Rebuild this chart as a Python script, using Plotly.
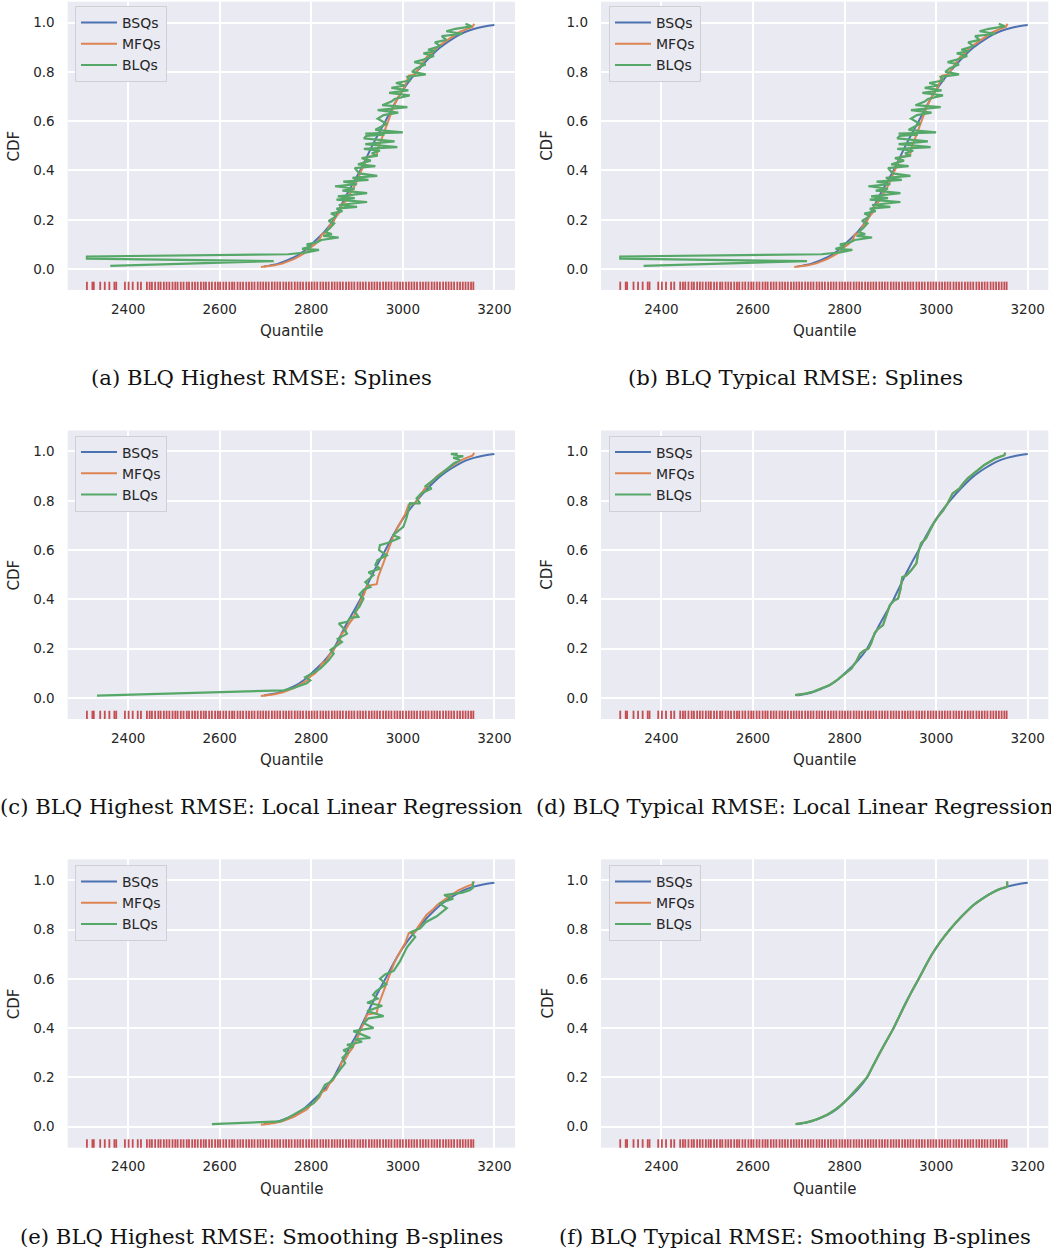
import plotly.graph_objects as go

# ---------------- data ----------------
panel_captions = [
    "(a) BLQ Highest RMSE: Splines",
    "(b) BLQ Typical RMSE: Splines",
    "(c) BLQ Highest RMSE: Local Linear Regression",
    "(d) BLQ Typical RMSE: Local Linear Regression",
    "(e) BLQ Highest RMSE: Smoothing B-splines",
    "(f) BLQ Typical RMSE: Smoothing B-splines",
]
series_names = ["BSQs", "MFQs", "BLQs"]
x_ticks = [2400, 2600, 2800, 3000, 3200]
y_ticks = [0.0, 0.2, 0.4, 0.6, 0.8, 1.0]

# observed sample (rug)
rug_values = [2310, 2322, 2325, 2339, 2349, 2359, 2370, 2374, 2393, 2401, 2410, 2421, 2428,
              2441, 2447, 2452, 2459, 2466, 2471, 2478, 2484, 2490, 2497, 2503, 2508, 2515, 2521,
              2528, 2533, 2540, 2546, 2552, 2559, 2565, 2570, 2577, 2583, 2590, 2596, 2601, 2608,
              2614, 2621, 2627, 2632, 2639, 2645, 2651, 2658, 2664, 2670, 2676, 2683, 2689, 2695,
              2701, 2707, 2714, 2720, 2726, 2732, 2739, 2745, 2751, 2757, 2764, 2770, 2776, 2782,
              2789, 2795, 2801, 2807, 2813, 2820, 2826, 2832, 2838, 2845, 2851, 2857, 2863, 2869,
              2876, 2882, 2888, 2894, 2901, 2907, 2913, 2919, 2926, 2932, 2938, 2944, 2950, 2957,
              2963, 2969, 2975, 2982, 2988, 2994, 3000, 3007, 3013, 3019, 3025, 3031, 3038, 3044,
              3050, 3056, 3063, 3069, 3075, 3081, 3088, 3094, 3100, 3106, 3112, 3119, 3125, 3131,
              3137, 3143, 3149, 3154]

# BSQs (same in every panel)
bsq_quantile = [2697, 2710, 2725, 2740, 2765, 2782, 2800, 2828, 2849, 2863, 2877, 2892, 2907, 2920,
                2933, 2947, 2962, 2976, 2991, 3009, 3030, 3054, 3082, 3105, 3123, 3140, 3155, 3175, 3200]
bsq_cdf = [0.01, 0.015, 0.02, 0.03, 0.05, 0.07, 0.10, 0.15, 0.20, 0.25, 0.30, 0.35, 0.40, 0.45,
           0.50, 0.55, 0.60, 0.65, 0.70, 0.75, 0.80, 0.85, 0.90, 0.93, 0.95, 0.965, 0.974, 0.983, 0.99]

# MFQs (step-like)
mfq_quantile = [2690, 2705, 2720, 2738, 2750, 2762, 2778, 2790, 2800, 2808, 2818, 2823, 2833, 2840,
                2848, 2853, 2862, 2866, 2875, 2882, 2890, 2897, 2903, 2908, 2915, 2922, 2943, 2946,
                2952, 2957, 2962, 2968, 2975, 2980, 2988, 2996, 3005, 3013, 3027, 3033, 3045, 3052,
                3065, 3075, 3090, 3105, 3122, 3140, 3152, 3156]
mfq_cdf = [0.008, 0.010, 0.015, 0.023, 0.030, 0.040, 0.057, 0.070, 0.090, 0.100, 0.120, 0.140, 0.150,
           0.175, 0.190, 0.210, 0.230, 0.260, 0.275, 0.300, 0.320, 0.345, 0.370, 0.395, 0.420, 0.455,
           0.462, 0.490, 0.520, 0.545, 0.575, 0.600, 0.640, 0.660, 0.690, 0.715, 0.745, 0.785, 0.790,
           0.810, 0.845, 0.860, 0.880, 0.900, 0.920, 0.940, 0.960, 0.975, 0.983, 0.995]

# BLQs, (quantile, cdf) pairs per panel
blq_a = [(2361, 0.013), (2718, 0.032), (2310, 0.042), (2310, 0.051), (2750, 0.060), (2765, 0.062),
         (2790, 0.068), (2817, 0.078), (2780, 0.082), (2800, 0.092), (2790, 0.100), (2812, 0.108),
         (2822, 0.118), (2860, 0.128), (2826, 0.135), (2845, 0.142), (2830, 0.150), (2840, 0.165),
         (2850, 0.185), (2838, 0.195), (2848, 0.205), (2855, 0.215), (2843, 0.225), (2868, 0.235),
         (2855, 0.245), (2900, 0.252), (2860, 0.260), (2922, 0.272), (2855, 0.282), (2895, 0.288),
         (2858, 0.295), (2922, 0.308), (2868, 0.318), (2895, 0.326), (2852, 0.336), (2900, 0.345),
         (2870, 0.355), (2925, 0.362), (2890, 0.370), (2944, 0.378), (2905, 0.388), (2895, 0.410),
         (2940, 0.418), (2902, 0.425), (2930, 0.440), (2910, 0.450), (2945, 0.460), (2932, 0.470),
         (2950, 0.480), (2915, 0.488), (2988, 0.495), (2918, 0.507), (2982, 0.518), (2915, 0.530),
         (2920, 0.540), (2960, 0.545), (2918, 0.550), (3000, 0.555), (2940, 0.565), (2950, 0.575),
         (2965, 0.590), (2945, 0.610), (2958, 0.625), (2990, 0.635), (2945, 0.645), (3010, 0.657),
         (2955, 0.665), (2975, 0.680), (2982, 0.690), (3015, 0.705), (2970, 0.715), (3012, 0.725),
         (2975, 0.735), (3005, 0.745), (2985, 0.755), (3015, 0.765), (3010, 0.780), (3050, 0.790),
         (3020, 0.800), (3030, 0.815), (3050, 0.830), (3025, 0.840), (3045, 0.850), (3068, 0.865),
         (3045, 0.875), (3072, 0.885), (3055, 0.890), (3082, 0.905), (3070, 0.920), (3095, 0.930),
         (3085, 0.945), (3130, 0.955), (3095, 0.965), (3115, 0.975), (3140, 0.980), (3150, 0.985),
         (3137, 0.995)]
blq_b = [(2361, 0.013), (2718, 0.032), (2310, 0.042), (2310, 0.051), (2750, 0.060), (2765, 0.062),
         (2790, 0.068), (2817, 0.078), (2780, 0.082), (2800, 0.092), (2790, 0.100), (2812, 0.108),
         (2822, 0.118), (2860, 0.128), (2826, 0.135), (2845, 0.142), (2830, 0.150), (2840, 0.165),
         (2850, 0.185), (2838, 0.195), (2848, 0.205), (2855, 0.215), (2843, 0.225), (2868, 0.235),
         (2855, 0.245), (2900, 0.252), (2860, 0.260), (2922, 0.272), (2855, 0.282), (2895, 0.288),
         (2858, 0.295), (2922, 0.308), (2868, 0.318), (2895, 0.326), (2852, 0.336), (2900, 0.345),
         (2870, 0.355), (2925, 0.362), (2890, 0.370), (2944, 0.378), (2905, 0.388), (2895, 0.410),
         (2940, 0.418), (2902, 0.425), (2930, 0.440), (2910, 0.450), (2945, 0.460), (2932, 0.470),
         (2950, 0.480), (2915, 0.488), (2988, 0.495), (2918, 0.507), (2982, 0.518), (2915, 0.530),
         (2920, 0.540), (2960, 0.545), (2918, 0.550), (3000, 0.555), (2940, 0.565), (2950, 0.575),
         (2965, 0.590), (2945, 0.610), (2958, 0.625), (2990, 0.635), (2945, 0.645), (3010, 0.657),
         (2955, 0.665), (2975, 0.680), (2982, 0.690), (3015, 0.705), (2970, 0.715), (3012, 0.725),
         (2975, 0.735), (3005, 0.745), (2985, 0.755), (3015, 0.765), (3010, 0.780), (3050, 0.790),
         (3020, 0.800), (3030, 0.815), (3050, 0.830), (3025, 0.840), (3045, 0.850), (3068, 0.865),
         (3045, 0.875), (3072, 0.885), (3055, 0.890), (3082, 0.905), (3070, 0.920), (3095, 0.930),
         (3085, 0.945), (3130, 0.955), (3095, 0.965), (3115, 0.975), (3140, 0.980), (3150, 0.985),
         (3137, 0.995)]
blq_c = [(2332, 0.010), (2740, 0.031), (2760, 0.040), (2776, 0.051), (2790, 0.060), (2798, 0.072),
         (2787, 0.085), (2800, 0.098), (2809, 0.106), (2820, 0.120), (2830, 0.140), (2838, 0.153),
         (2849, 0.180), (2842, 0.195), (2850, 0.205), (2867, 0.227), (2858, 0.240), (2878, 0.261),
         (2872, 0.280), (2860, 0.302), (2880, 0.310), (2885, 0.325), (2903, 0.329), (2895, 0.350),
         (2905, 0.370), (2914, 0.403), (2905, 0.420), (2915, 0.440), (2929, 0.450), (2918, 0.470),
         (2936, 0.498), (2925, 0.510), (2950, 0.525), (2940, 0.540), (2945, 0.560), (2965, 0.579),
         (2948, 0.600), (2950, 0.620), (2968, 0.630), (2994, 0.650), (2978, 0.660), (3001, 0.694),
         (3008, 0.730), (3012, 0.762), (3016, 0.790), (3038, 0.789), (3030, 0.810), (3040, 0.830),
         (3063, 0.850), (3050, 0.860), (3067, 0.884), (3089, 0.917), (3111, 0.951), (3125, 0.965),
         (3110, 0.975), (3132, 0.980), (3105, 0.990), (3120, 0.990)]
blq_d = [(2692, 0.012), (2715, 0.018), (2732, 0.026), (2750, 0.038), (2768, 0.053), (2785, 0.075),
         (2801, 0.100), (2815, 0.120), (2826, 0.150), (2834, 0.180), (2842, 0.192), (2852, 0.200),
         (2858, 0.222), (2866, 0.265), (2873, 0.280), (2884, 0.296), (2892, 0.340), (2899, 0.377),
         (2908, 0.395), (2917, 0.404), (2922, 0.440), (2926, 0.490), (2935, 0.497), (2946, 0.519),
         (2957, 0.546), (2961, 0.590), (2967, 0.627), (2978, 0.648), (2985, 0.674), (2995, 0.710),
         (3004, 0.735), (3015, 0.760), (3025, 0.789), (3036, 0.830), (3051, 0.850), (3058, 0.868),
         (3069, 0.891), (3087, 0.918), (3105, 0.945), (3130, 0.972), (3149, 0.985), (3151, 0.995)]
blq_e = [(2583, 0.011), (2732, 0.022), (2748, 0.035), (2761, 0.049), (2780, 0.070), (2805, 0.096),
         (2815, 0.120), (2830, 0.170), (2840, 0.180), (2850, 0.200), (2862, 0.230), (2874, 0.258),
         (2868, 0.280), (2880, 0.300), (2870, 0.310), (2892, 0.326), (2878, 0.332), (2911, 0.345),
         (2895, 0.355), (2929, 0.360), (2892, 0.388), (2936, 0.401), (2915, 0.420), (2925, 0.440),
         (2958, 0.449), (2922, 0.469), (2955, 0.491), (2922, 0.503), (2945, 0.520), (2935, 0.535),
         (2942, 0.550), (2964, 0.578), (2950, 0.600), (2961, 0.618), (2980, 0.632), (2994, 0.672),
         (3009, 0.728), (3018, 0.750), (3027, 0.770), (3018, 0.790), (3038, 0.805), (3050, 0.830),
         (3074, 0.854), (3096, 0.887), (3080, 0.905), (3092, 0.914), (3110, 0.925), (3090, 0.940),
         (3130, 0.950), (3147, 0.960), (3153, 0.970), (3153, 0.995)]
blq_f = [(2693, 0.011), (2715, 0.017), (2739, 0.030), (2763, 0.050), (2780, 0.070), (2800, 0.100),
         (2825, 0.150), (2849, 0.200), (2863, 0.250), (2877, 0.300), (2892, 0.350), (2907, 0.400),
         (2920, 0.450), (2933, 0.500), (2947, 0.550), (2962, 0.600), (2976, 0.650), (2991, 0.700),
         (3009, 0.750), (3030, 0.800), (3054, 0.850), (3082, 0.900), (3105, 0.930), (3123, 0.950),
         (3140, 0.965), (3155, 0.974), (3155, 0.995)]

blq_panels = [blq_a, blq_b, blq_c, blq_d, blq_e, blq_f]
# MFQs hidden under BLQs in the "typical" smooth panels (d) and (f)
mfq_panels = [
    (mfq_quantile, mfq_cdf), (mfq_quantile, mfq_cdf), (mfq_quantile, mfq_cdf),
    ([p[0] for p in blq_d], [p[1] for p in blq_d]),
    (mfq_quantile, mfq_cdf),
    ([p[0] for p in blq_f], [p[1] for p in blq_f]),
]

# ---------------- style / layout ----------------
W, H = 1051, 1251
C_BLUE, C_ORANGE, C_GREEN, C_RED = "#4C72B0", "#DD8452", "#55A868", "#C44E52"
BG = "#EAEAF2"
TXT = "#262626"
SANS = "DejaVu Sans"
SERIF = "DejaVu Serif"

col_px = [(67.7, 515.0), (601.0, 1048.3)]
row_px = [(1.7, 290.0), (430.5, 719.0), (859.3, 1147.7)]
legend_px = [(75, 6), (609, 6), (75, 435.5), (609, 435.5), (75, 865), (609, 865)]
caption_y_px = [377, 806, 1236]
caption_x_px = [261, 795]
x_range = [2268, 3245]
y_range = [-0.085, 1.085]
rug_level = -0.071

fig = go.Figure()
layout = dict(
    width=W, height=H,
    margin=dict(l=0, r=0, t=0, b=0),
    paper_bgcolor="white", plot_bgcolor=BG,
    font=dict(family=SANS, color=TXT, size=13.5),
    annotations=[],
    showlegend=True,
)

for i in range(6):
    r, c = divmod(i, 2)
    suffix = "" if i == 0 else str(i + 1)
    xa, ya = "x" + suffix, "y" + suffix
    leg = "legend" + suffix
    x0, x1 = col_px[c]
    y0, y1 = row_px[r]

    layout["xaxis" + suffix] = dict(
        domain=[x0 / W, x1 / W], range=x_range, anchor=ya,
        tickvals=x_ticks, ticks="", showline=False, zeroline=False,
        showgrid=True, gridcolor="white", gridwidth=1.5,
        tickfont=dict(family=SANS, size=13.5, color=TXT),
        ticklabelstandoff=9, automargin=False, fixedrange=True,
    )
    layout["yaxis" + suffix] = dict(
        domain=[1 - y1 / H, 1 - y0 / H], range=y_range, anchor=xa,
        tickvals=y_ticks, tickformat=".1f", ticks="", showline=False, zeroline=False,
        showgrid=True, gridcolor="white", gridwidth=1.5,
        tickfont=dict(family=SANS, size=13.5, color=TXT),
        ticklabelstandoff=12, automargin=False, fixedrange=True,
    )
    lx, ly = legend_px[i]
    layout[leg] = dict(
        x=lx / W, y=1 - ly / H, xanchor="left", yanchor="top",
        bgcolor=BG, bordercolor="#CFCFD6", borderwidth=1,
        font=dict(family=SANS, size=14, color=TXT),
        itemwidth=36,
        itemclick=False, itemdoubleclick=False, tracegroupgap=0,
    )

    # rug
    fig.add_trace(go.Scatter(
        x=rug_values, y=[rug_level] * len(rug_values), xaxis=xa, yaxis=ya,
        mode="markers", showlegend=False, hoverinfo="skip",
        marker=dict(symbol="line-ns", size=7, color=C_RED,
                    line=dict(color=C_RED, width=1.8)),
    ))
    # BSQs
    fig.add_trace(go.Scatter(
        x=bsq_quantile, y=bsq_cdf, xaxis=xa, yaxis=ya, mode="lines",
        name=series_names[0], legend=leg,
        line=dict(color=C_BLUE, width=2, shape="spline", smoothing=0.6),
    ))
    # MFQs
    mq, mc = mfq_panels[i]
    fig.add_trace(go.Scatter(
        x=mq, y=mc, xaxis=xa, yaxis=ya, mode="lines",
        name=series_names[1], legend=leg,
        line=dict(color=C_ORANGE, width=2),
    ))
    # BLQs
    bq = [p[0] for p in blq_panels[i]]
    bc = [p[1] for p in blq_panels[i]]
    fig.add_trace(go.Scatter(
        x=bq, y=bc, xaxis=xa, yaxis=ya, mode="lines",
        name=series_names[2], legend=leg,
        line=dict(color=C_GREEN, width=2.2,
                  shape="spline" if i == 5 else "linear", smoothing=0.6),
    ))

    # axis titles
    layout["annotations"].append(dict(
        text="Quantile", xref="paper", yref="paper",
        x=(x0 + x1) / 2 / W, y=1 - (y1 + 41) / H,
        xanchor="center", yanchor="middle", showarrow=False,
        font=dict(family=SANS, size=15, color=TXT),
    ))
    layout["annotations"].append(dict(
        text="CDF", xref="paper", yref="paper",
        x=(x0 - 54) / W, y=1 - (y0 + y1) / 2 / H, textangle=-90,
        xanchor="center", yanchor="middle", showarrow=False,
        font=dict(family=SANS, size=15, color=TXT),
    ))
    # caption
    layout["annotations"].append(dict(
        text=panel_captions[i], xref="paper", yref="paper",
        x=caption_x_px[c] / W, y=1 - caption_y_px[r] / H,
        xanchor="center", yanchor="middle", showarrow=False,
        font=dict(family=SERIF, size=21.2, color="#111111"),
    ))

fig.update_layout(**layout)
fig.write_html("out.html")
